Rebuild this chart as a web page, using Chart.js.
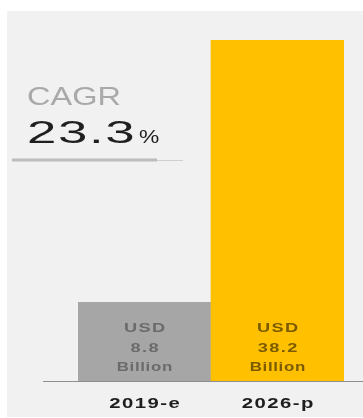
<!DOCTYPE html>
<html>
<head>
<meta charset="utf-8">
<script src="https://cdn.jsdelivr.net/npm/chart.js@4"></script>
<style>
  html, body { margin: 0; padding: 0; background: #fff; }
  #chart { display: block; }
</style>
</head>
<body>
<canvas id="chart" width="363" height="418"></canvas>
<script>
// market size, USD billion
const categories = ['2019-e', '2026-p'];
const marketSize = [8.8, 38.2];
const valuePrefix = 'USD';
const valueSuffix = 'Billion';
const cagrLabel = 'CAGR';
const cagrValue = '23.3';

const barColors = ['#a6a6a6', '#ffc000'];
const labelColors = ['#6b6b6b', '#7a5b00'];

// draws text stretched horizontally by sx
function drawText(ctx, text, x, y, font, color, sx, align, spacing) {
  ctx.save();
  ctx.font = font;
  ctx.fillStyle = color;
  ctx.textAlign = 'left';
  ctx.textBaseline = 'alphabetic';
  ctx.letterSpacing = (spacing || 0) + 'px';
  let w = ctx.measureText(text).width - (spacing || 0);
  w *= sx;
  let left = x;
  if (align === 'center') left = x - w / 2;
  if (align === 'right') left = x - w;
  ctx.translate(left, y);
  ctx.scale(sx, 1);
  ctx.fillText(text, 0, 0);
  ctx.restore();
}

const backdrop = {
  id: 'backdrop',
  beforeDraw(chart) {
    const ctx = chart.ctx;
    ctx.save();
    ctx.fillStyle = '#ffffff';
    ctx.fillRect(0, 0, chart.width, chart.height);
    ctx.fillStyle = '#f1f1f1';
    ctx.fillRect(7, 11, chart.width - 7, chart.height - 12);
    ctx.restore();
  }
};

const decorations = {
  id: 'decorations',
  afterDatasetsDraw(chart) {
    const ctx = chart.ctx;
    const x = chart.scales.x;
    const y = chart.scales.y;
    const base = y.getPixelForValue(0);

    // baseline
    ctx.save();
    ctx.strokeStyle = '#8e8e8e';
    ctx.lineWidth = 1;
    ctx.beginPath();
    ctx.moveTo(43, base + 0.5);
    ctx.lineTo(chart.width, base + 0.5);
    ctx.stroke();
    ctx.restore();

    // value labels inside bars + category labels below
    marketSize.forEach((v, i) => {
      const cx = x.getPixelForValue(i);
      const f = 'bold 13px "Liberation Sans", Arial, sans-serif';
      drawText(ctx, valuePrefix, cx, base - 49, f, labelColors[i], 1.4, 'center', 1);
      drawText(ctx, v.toFixed(1), cx, base - 29, f, labelColors[i], 1.4, 'center', 1);
      drawText(ctx, valueSuffix, cx, base - 10, f, labelColors[i], 1.3, 'center', 0.5);
      drawText(ctx, categories[i], cx, base + 27, 'bold 14px "Liberation Sans", Arial, sans-serif', '#1e1e1e', 1.45, 'center', 1);
    });

    // CAGR block
    drawText(ctx, cagrLabel, 27, 105, '25px "Liberation Sans", Arial, sans-serif', '#a9a9a9', 1.3, 'left', 0);
    drawText(ctx, cagrValue, 27, 143, '32px "Liberation Sans", Arial, sans-serif', '#1f1f1f', 1.65, 'left', 1);
    drawText(ctx, '%', 139, 143, '19px "Liberation Sans", Arial, sans-serif', '#1f1f1f', 1.2, 'left', 0);

    ctx.save();
    ctx.strokeStyle = '#bdbdbd';
    ctx.lineWidth = 3;
    ctx.beginPath();
    ctx.moveTo(12, 160);
    ctx.lineTo(157, 160);
    ctx.stroke();
    ctx.strokeStyle = '#cfcfcf';
    ctx.lineWidth = 1;
    ctx.beginPath();
    ctx.moveTo(157, 160.5);
    ctx.lineTo(183, 160.5);
    ctx.stroke();
    ctx.restore();
  }
};

new Chart(document.getElementById('chart'), {
  type: 'bar',
  data: {
    labels: categories,
    datasets: [{
      data: marketSize,
      backgroundColor: barColors,
      borderWidth: 0,
      barPercentage: 1,
      categoryPercentage: 1
    }]
  },
  options: {
    responsive: false,
    animation: false,
    devicePixelRatio: 1,
    layout: { padding: { left: 78, right: 19, top: 40, bottom: 37 } },
    scales: {
      x: { display: false },
      y: { display: false, min: 0, max: 38.2 }
    },
    plugins: {
      legend: { display: false },
      tooltip: { enabled: false }
    }
  },
  plugins: [backdrop, decorations]
});
</script>
</body>
</html>
